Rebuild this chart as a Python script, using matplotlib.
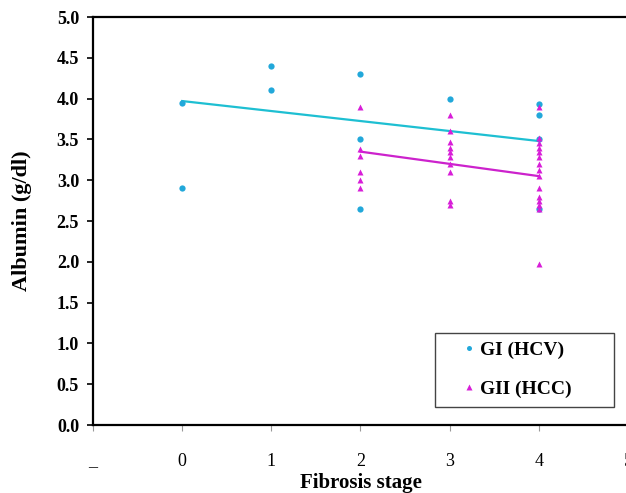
import numpy as np
import matplotlib
matplotlib.use("Agg")
import matplotlib.pyplot as plt

plt.rcParams["font.family"] = ["Liberation Serif", "DejaVu Serif"]

# ---------- data ----------
gi_x = [0, 0, 1, 1, 2, 2, 2, 3, 4, 4, 4, 4]
gi_y = [3.95, 2.9, 4.4, 4.1, 4.3, 3.5, 2.65, 4.0, 3.93, 3.8, 3.5, 2.65]

gii_x = [2] * 6 + [3] * 10 + [4] * 15
gii_y = [3.9, 3.38, 3.3, 3.1, 3.0, 2.9,
         3.8, 3.6, 3.47, 3.4, 3.35, 3.28, 3.2, 3.1, 2.75, 2.7,
         3.9, 3.52, 3.45, 3.4, 3.35, 3.28, 3.2, 3.12, 3.05, 2.9, 2.8, 2.75, 2.7, 2.65, 1.97]

# trend lines
gi_fit_x = [0, 4]
gi_fit_y = [3.97, 3.48]
gii_fit_x = [2, 4]
gii_fit_y = [3.35, 3.05]

x_ticks = [-1, 0, 1, 2, 3, 4, 5]
x_ticklabels = ["_", "0", "1", "2", "3", "4", "5"]
y_ticks = np.arange(0, 5.01, 0.5)

BLUE = "#22A8DA"
BLUE_LINE = "#1EBFD2"
MAG = "#D81ED8"
MAG_LINE = "#CC22CC"

fig = plt.figure(figsize=(6.26, 4.93), dpi=100)
ax = fig.add_axes([93 / 626, 68 / 493, 535 / 626, 408 / 493])

ax.plot(gi_fit_x, gi_fit_y, color=BLUE_LINE, lw=1.6, zorder=2)
ax.plot(gii_fit_x, gii_fit_y, color=MAG_LINE, lw=1.6, zorder=2)
ax.plot(gi_x, gi_y, "o", color=BLUE, ms=4.5, mec="none", label="GI (HCV)", zorder=3)
ax.plot(gii_x, gii_y, "^", color=MAG, ms=5, mec="none", label="GII (HCC)", zorder=3)

ax.set_xlim(-1, 5)
ax.set_ylim(0, 5)
ax.set_xticks(x_ticks)
ax.set_xticklabels(x_ticklabels, fontsize=13)
ax.set_yticks(y_ticks)
ax.set_yticklabels([f"{v:.1f}" for v in y_ticks], fontsize=13, fontweight="bold")

ax.tick_params(axis="x", direction="out", length=4, width=0.8, color="#999999", pad=16)
ax.tick_params(axis="y", direction="out", length=4, width=1.2, color="black", pad=6)

for side in ["left", "bottom", "top"]:
    ax.spines[side].set_linewidth(1.6)
    ax.spines[side].set_color("black")
ax.spines["right"].set_visible(False)

ax.set_xlabel("Fibrosis stage", fontsize=15, fontweight="bold", labelpad=2)
ax.set_ylabel("Albumin (g/dl)", fontsize=16, fontweight="bold", labelpad=18)

# legend box spans a fixed area, marker sits close to the text
leg = ax.legend(loc="lower left", bbox_to_anchor=(0.639, 0.044, 0.335, 0.18), mode="expand",
                prop={"size": 14, "weight": "bold"}, frameon=True, fancybox=False,
                edgecolor="#444444", framealpha=1, handlelength=2.6, handletextpad=-0.75,
                labelspacing=1.1, borderpad=0.45, borderaxespad=0, markerscale=0.8)
leg.get_frame().set_linewidth(1.0)

fig.savefig("out.png", dpi=100)
